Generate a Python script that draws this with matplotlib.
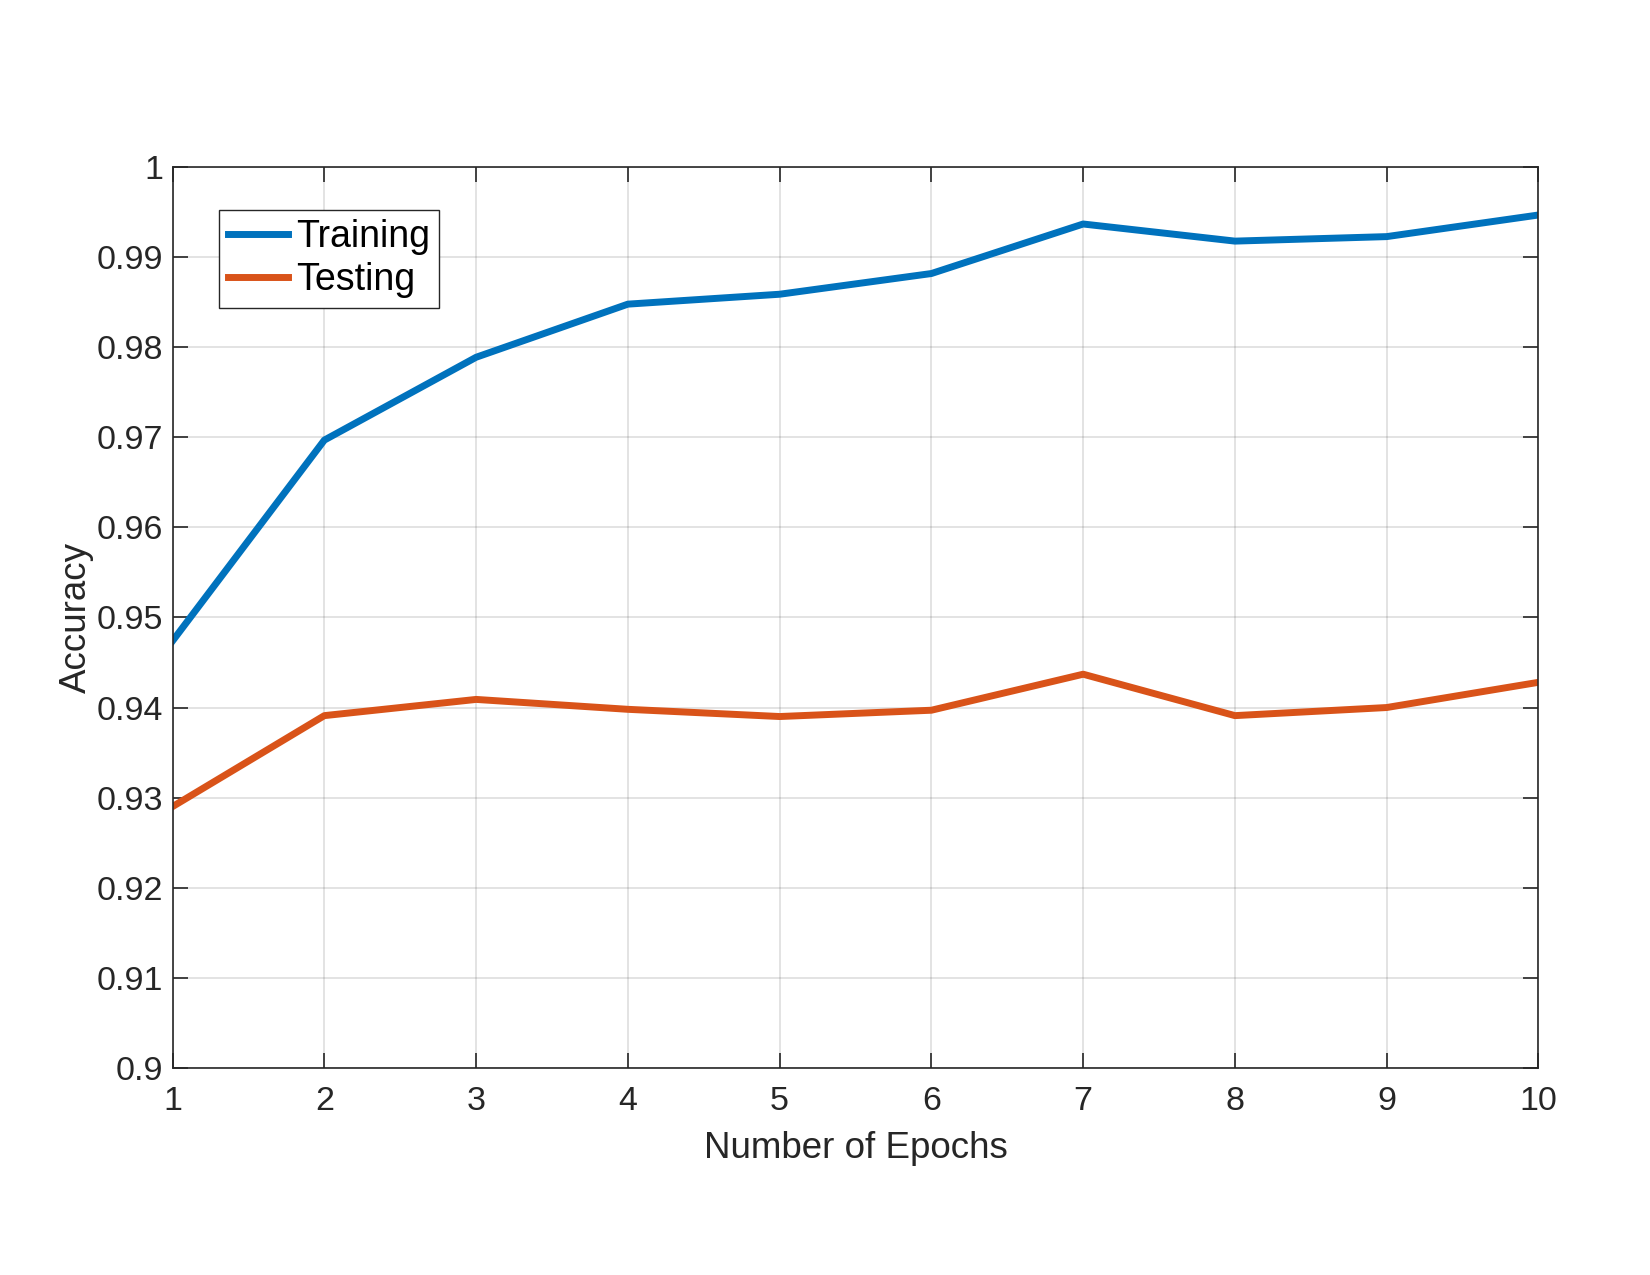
import numpy as np
import matplotlib
matplotlib.use('Agg')
import matplotlib.pyplot as plt

plt.rcParams['font.family'] = ['Liberation Sans', 'DejaVu Sans']

# data
epochs = [1, 2, 3, 4, 5, 6, 7, 8, 9, 10]
train_acc = [0.9474, 0.9697, 0.9789, 0.9848, 0.9859, 0.9882, 0.9937, 0.9918, 0.9923, 0.9947]
test_acc = [0.9290, 0.9391, 0.9409, 0.9398, 0.9390, 0.9397, 0.9437, 0.9391, 0.9400, 0.9428]
yticks = [0.9, 0.91, 0.92, 0.93, 0.94, 0.95, 0.96, 0.97, 0.98, 0.99, 1]
ytick_labels = ['0.9', '0.91', '0.92', '0.93', '0.94', '0.95', '0.96', '0.97', '0.98', '0.99', '1']

fig = plt.figure(figsize=(16.5, 12.75), dpi=100)
ax = fig.add_axes([0.1046, 0.1626, 0.8278, 0.7062])

ax.plot(epochs, train_acc, color='#0072BD', lw=5, label='Training')
ax.plot(epochs, test_acc, color='#D95319', lw=5, label='Testing')

ax.set_xlim(1, 10)
ax.set_ylim(0.9, 1)
ax.set_xticks(epochs)
ax.set_yticks(yticks)
ax.set_yticklabels(ytick_labels)
ax.grid(True, color='#262626', alpha=0.15, lw=1.2)
ax.tick_params(direction='in', length=11, width=1.2, labelsize=24.5, colors='#262626',
               top=True, right=True)
ax.tick_params(axis='x', pad=13)
ax.tick_params(axis='y', pad=7)
for s in ax.spines.values():
    s.set_color('#262626')
    s.set_linewidth(1.2)

ax.set_xlabel('Number of Epochs', fontsize=26.5, color='#262626', labelpad=10)
ax.set_ylabel('Accuracy', fontsize=26.5, color='#262626', labelpad=2)

leg = ax.legend(loc='upper left', bbox_to_anchor=(0.034, 0.953), fontsize=27,
                fancybox=False, framealpha=1, edgecolor='#262626',
                handlelength=1.6, handletextpad=0.2, borderpad=0.25, labelspacing=0.2,
                borderaxespad=0)
leg.get_frame().set_linewidth(1.0)

plt.savefig('out.png', dpi=100)
